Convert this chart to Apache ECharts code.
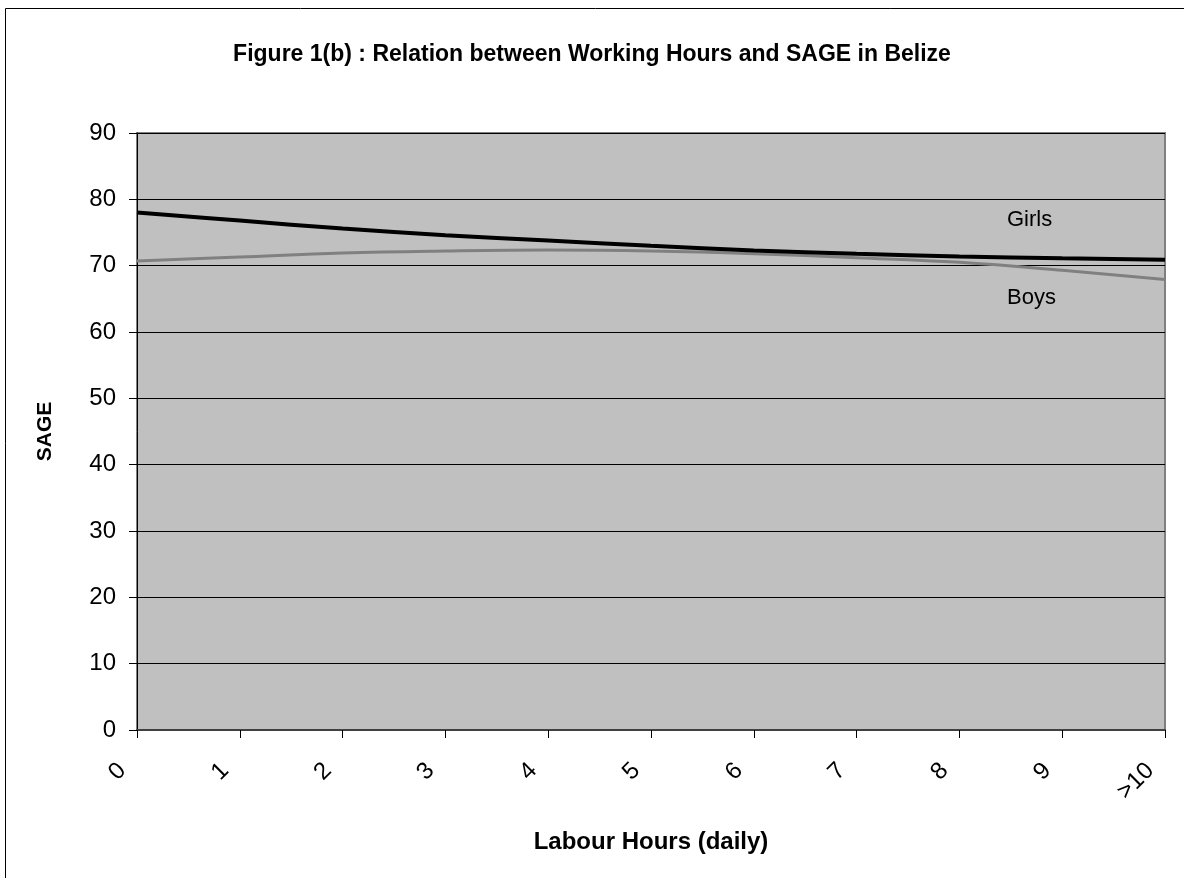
<!DOCTYPE html>
<html>
<head>
<meta charset="utf-8">
<script src="https://cdn.jsdelivr.net/npm/echarts@6/dist/echarts.min.js"></script>
<style>
html,body{margin:0;padding:0;background:#fff;}
#chart{width:1184px;height:878px;}
</style>
</head>
<body>
<div id="chart"></div>
<script>
var categories = ['0','1','2','3','4','5','6','7','8','9','>10'];
var girls = [78.0, 76.8, 75.6, 74.6, 73.8, 73.0, 72.3, 71.8, 71.4, 71.1, 70.9];
var boys  = [70.7, 71.3, 71.9, 72.2, 72.35, 72.2, 71.8, 71.2, 70.5, 69.3, 67.9];
var yMin = 0, yMax = 90, yStep = 10;

var font = '"Liberation Sans", Arial, sans-serif';
var chart = echarts.init(document.getElementById('chart'));
chart.setOption({
  animation: false,
  backgroundColor: '#ffffff',
  title: {
    text: 'Figure 1(b) : Relation between Working Hours and SAGE in Belize',
    left: 'center',
    top: 38,
    textStyle: {fontFamily: font, fontSize: 23, fontWeight: 'bold', color: '#000'}
  },
  grid: {
    left: 137, top: 133, right: 19, bottom: 148,
    show: true, backgroundColor: '#c0c0c0', borderColor: '#808080', borderWidth: 2
  },
  xAxis: {
    type: 'category',
    data: categories,
    boundaryGap: false,
    name: 'Labour Hours (daily)',
    nameLocation: 'middle',
    nameGap: 100,
    nameTextStyle: {fontFamily: font, fontSize: 24, fontWeight: 'bold', color: '#000'},
    axisLine: {lineStyle: {color: '#404040', width: 2}},
    axisTick: {show: true, length: 8, alignWithLabel: true, lineStyle: {color: '#000'}},
    axisLabel: {
      rotate: 45, margin: 22, interval: 0,
      padding: [0, 21, 0, 0],
      fontFamily: font, fontSize: 24, color: '#000'
    },
    splitLine: {show: false}
  },
  yAxis: {
    type: 'value',
    min: yMin, max: yMax, interval: yStep,
    name: 'SAGE',
    nameLocation: 'middle',
    nameGap: 81,
    nameTextStyle: {fontFamily: font, fontSize: 21, fontWeight: 'bold', color: '#000'},
    axisLine: {show: true, lineStyle: {color: '#000', width: 1}},
    axisTick: {show: true, length: 8, lineStyle: {color: '#000'}},
    axisLabel: {margin: 21, fontFamily: font, fontSize: 24, color: '#000'},
    splitLine: {show: true, lineStyle: {color: '#000', width: 1}}
  },
  graphic: [
    {type: 'rect', shape: {x: 5.5, y: 8.5, width: 1400, height: 1000},
     style: {fill: 'none', stroke: '#000', lineWidth: 1}, z: -1},
    {type: 'text', left: 1007, top: 209,
     style: {text: 'Girls', font: '22px ' + font, fill: '#000'}},
    {type: 'text', left: 1007, top: 287,
     style: {text: 'Boys', font: '22px ' + font, fill: '#000'}}
  ],
  series: [
    {
      name: 'Boys', type: 'line', data: boys, smooth: 0.4,
      symbol: 'none', lineStyle: {color: '#808080', width: 3}, z: 2
    },
    {
      name: 'Girls', type: 'line', data: girls, smooth: 0.4,
      symbol: 'none', lineStyle: {color: '#000000', width: 4}, z: 3
    }
  ]
});
</script>
</body>
</html>
